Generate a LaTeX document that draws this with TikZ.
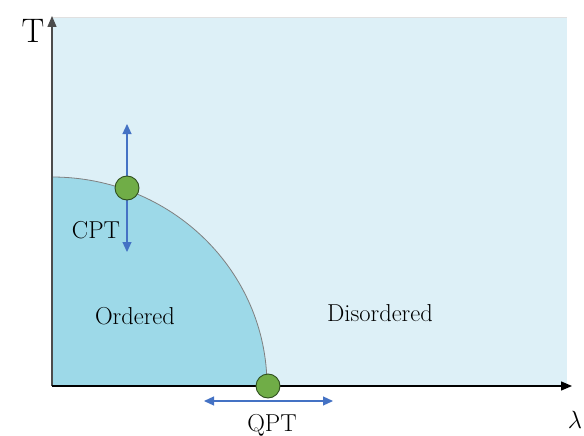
\documentclass[tikz,border=0pt]{standalone}
\usetikzlibrary{arrows.meta}
\definecolor{bglight}{HTML}{DDF0F7}
\definecolor{ordfill}{HTML}{9DD9E8}
\definecolor{dotgreen}{HTML}{70AD47}
\definecolor{dotedge}{HTML}{2F4F1F}
\definecolor{arrblue}{HTML}{4472C4}
\begin{document}
\begin{tikzpicture}[x=1pt,y=-1pt,
  dot/.style={circle,fill=dotgreen,draw=dotedge,line width=0.9pt,minimum size=24pt,inner sep=0pt},
  lbl/.style={font=\fontsize{24.5}{28}\selectfont,inner sep=0pt},
  big/.style={font=\fontsize{34}{38}\selectfont,inner sep=0pt},
  axis/.style={line width=1.3pt,-{Triangle[length=11pt,width=9pt]}},
  blarrow/.style={arrblue,line width=1.2pt,{Triangle[length=10pt,width=9pt]}-{Triangle[length=10pt,width=9pt]}}]
\useasboundingbox (0,0) rectangle (584,436);
% background
\fill[bglight] (52,17) rectangle (567,386);
\draw[black!12,line width=0.5pt] (52,17) -- (567,17);
% ordered region
\fill[ordfill] (52,386) -- (52,177) arc[start angle=90,end angle=0,x radius=215pt,y radius=209pt] -- cycle;
\draw[gray,line width=0.8pt] (52,177) arc[start angle=90,end angle=0,x radius=215pt,y radius=209pt];
% axes
\coordinate (org) at (52,386);
\coordinate (ytip) at (52,16);
\coordinate (xtip) at (572,386);
\draw[axis,black!70] (org) -- (ytip);
\draw[axis,black] (org) -- (xtip);
% arrows
\coordinate (cptT) at (127,124);
\coordinate (cptB) at (127,252);
\coordinate (optL) at (204,401);
\coordinate (optR) at (333,401);
\draw[blarrow] (cptT) -- (cptB);
\draw[blarrow] (optL) -- (optR);
% points
\node[dot] (cpt) at (127,188) {};
\node[dot] (opt) at (268,386) {};
% labels
\node[big] (T) at (33,31) {T};
\node[big] (lam) at (575,420) {$\lambda$};
\node[lbl] (cptl) at (96,230) {CPT};
\node[lbl] (ord) at (135,316) {Ordered};
\node[lbl] (dis) at (380,313) {Disordered};
\node[lbl] (qpt) at (272,425) {QPT};
\end{tikzpicture}
\end{document}
